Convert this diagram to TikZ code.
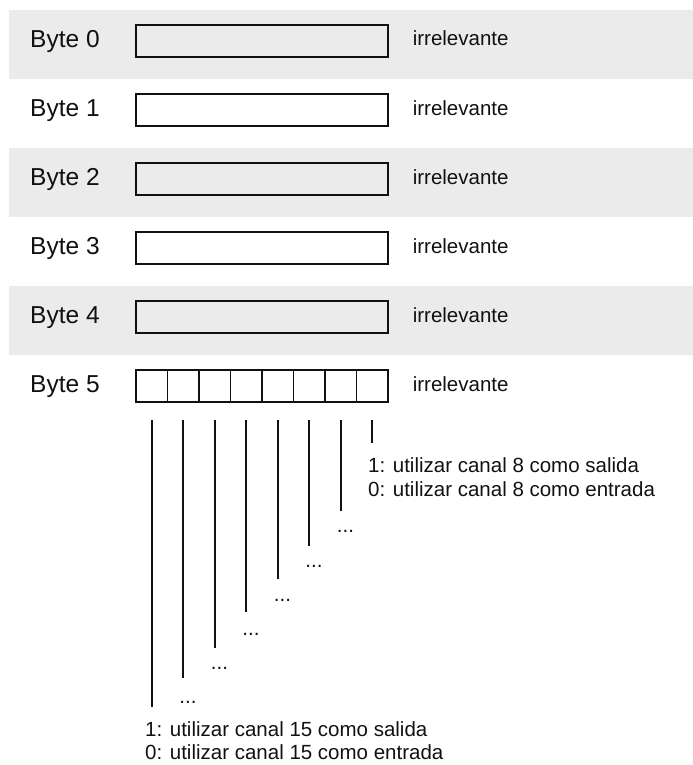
\documentclass[tikz,border=0pt]{standalone}
\usepackage{fontspec}
\setmainfont{Liberation Sans}
\definecolor{bandgray}{HTML}{EBEBEB}
\definecolor{inkc}{HTML}{111111}
\tikzset{
  band/.style={fill=bandgray, draw=none},
  bytebox/.style={draw=inkc, line width=1.6bp, minimum width=252bp, minimum height=32bp, inner sep=0, outer sep=0},
  bitcell/.style={draw=inkc, line width=1.6bp, minimum width=31.5bp, minimum height=32bp, inner sep=0, outer sep=0},
  bytelabel/.style={font=\fontsize{24.5bp}{28bp}\selectfont, text=inkc, anchor=base west, inner sep=0},
  note/.style={font=\fontsize{20.5bp}{24bp}\selectfont, text=inkc, anchor=base west, inner sep=0},
  bitline/.style={draw=inkc, line width=1.6bp},
}
\begin{document}
\begin{tikzpicture}[x=1bp, y=-1bp]
\useasboundingbox (0,0) rectangle (693,765);
% grey bands
\fill[band] (9,10) rectangle (693,79);
\fill[band] (9,148) rectangle (693,217);
\fill[band] (9,286) rectangle (693,355);
% byte rows 0..4
\foreach \k in {0,1,2,3,4}{
  \pgfmathsetmacro{\cy}{41+69*\k}
  \node[bytelabel] (lab\k) at (30,\cy+6.8) {Byte \k};
  \node[bytebox] (box\k) at (262,\cy) {};
  \node[note] (irr\k) at (412.6,\cy+5) {irrelevante};
}
% byte 5
\node[bytelabel] (lab5) at (30,386+6.8) {Byte 5};
\foreach \i in {0,...,7}{
  \node[bitcell] (c\i) at (136+31.5*\i+15.75,386) {};
}
\node[note] (irr5) at (412.6,386+5) {irrelevante};
% bit lines
\foreach \i/\e in {0/707.3,1/678.3,2/647.7,3/612.3,4/579.3,5/545.7,6/511,7/443}{
  \coordinate (t\i) at (136+31.5*\i+15.75,420);
  \coordinate (e\i) at (136+31.5*\i+15.75,\e);
  \draw[bitline] (t\i) -- (e\i);
}
% dots
\foreach \i/\b in {1/703.5,2/669.5,3/635,4/601.5,5/567,6/532.5}{
  \node[note] (d\i) at (136+31.5*\i+15.75-4,\b) {...};
}
% texts
\node[note] (n8a) at (368,472) {1: utilizar canal 8 como salida};
\node[note] (n8b) at (368,496) {0: utilizar canal 8 como entrada};
\node[note] (n15a) at (145,736) {1: utilizar canal 15 como salida};
\node[note] (n15b) at (145,759.5) {0: utilizar canal 15 como entrada};
\end{tikzpicture}
\end{document}
